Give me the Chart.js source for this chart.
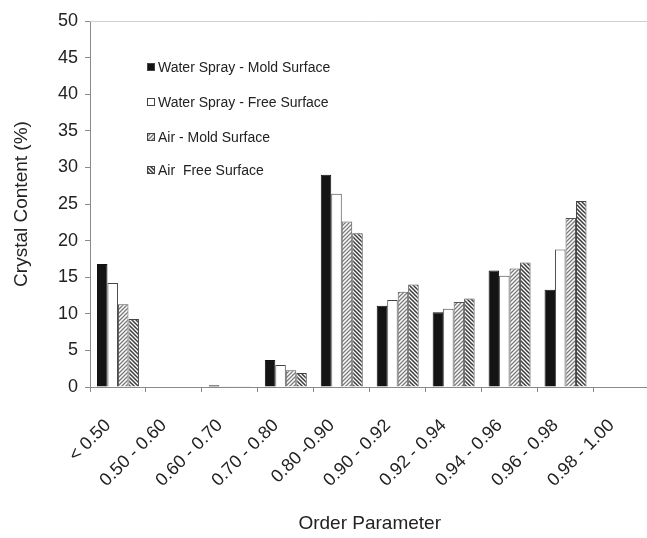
<!DOCTYPE html>
<html>
<head>
<meta charset="utf-8">
<script src="https://cdn.jsdelivr.net/npm/chart.js@4/dist/chart.umd.min.js"></script>
<style>
  html, body { margin: 0; padding: 0; background: #fff; overflow: hidden; }
  #wrap { width: 647px; height: 538px; overflow: hidden; }
</style>
</head>
<body>
<div id="wrap"><canvas id="c" width="660" height="538"></canvas></div>
<script>
// Order-parameter bins and crystal content (%) per surface / cooling condition
const categories = ['< 0.50', '0.50 - 0.60', '0.60 - 0.70', '0.70 - 0.80', '0.80 -0.90',
                    '0.90 - 0.92', '0.92 - 0.94', '0.94 - 0.96', '0.96 - 0.98', '0.98 - 1.00'];
const waterSprayMold = [16.8, 0, 0.25, 3.7, 29.0, 11.1, 10.2, 15.9, 13.3, 0];
const waterSprayFree = [14.2, 0, 0.1, 3.0, 26.4, 11.9, 10.7, 15.2, 18.8, 0];
const airMold        = [11.3, 0, 0.1, 2.3, 22.6, 13.0, 11.6, 16.2, 23.1, 0];
const airFree        = [9.3, 0, 0.1, 1.9, 21.0, 14.0, 12.1, 17.0, 25.4, 0];
const seriesNames = ['Water Spray - Mold Surface', 'Water Spray - Free Surface',
                     'Air - Mold Surface', 'Air  Free Surface'];
const yTicks = [0, 5, 10, 15, 20, 25, 30, 35, 40, 45, 50];

const FONT = 'Liberation Sans, Arial, sans-serif';

// diagonal hatch tile; dir = 1 for '/', -1 for '\'
function hatch(dir, color, width, size) {
  const cv = document.createElement('canvas');
  cv.width = size; cv.height = size;
  const g = cv.getContext('2d');
  g.fillStyle = '#fff';
  g.fillRect(0, 0, size, size);
  g.strokeStyle = color;
  g.lineWidth = width;
  g.beginPath();
  for (let k = -1; k <= 1; k++) {
    const o = k * size;
    if (dir > 0) { g.moveTo(o - 1, size + 1); g.lineTo(o + size + 1, -1); }
    else { g.moveTo(o - 1, -1); g.lineTo(o + size + 1, size + 1); }
  }
  g.stroke();
  return g.createPattern(cv, 'repeat');
}
const ctx0 = document.getElementById('c').getContext('2d');
const patMold = hatch(1, '#7a7a7a', 1.3, 4);
const patFree = hatch(-1, '#3c3c3c', 1.5, 4);

const fills = ['#141414', '#ffffff', patMold, patFree];
const borders = ['#111', '#444', '#555', '#444'];
const values = [waterSprayMold, waterSprayFree, airMold, airFree];

// legend drawn inside the plot, upper left
const legendBox = {
  id: 'legendBox',
  afterDraw(chart) {
    const c = chart.ctx;
    const rows = [67, 102, 137, 170];
    c.save();
    chart.data.datasets.forEach((ds, i) => {
      const y = rows[i];
      c.fillStyle = ds.backgroundColor;
      c.fillRect(147, y - 4, 8, 8);
      c.strokeStyle = '#444';
      c.lineWidth = 1;
      c.strokeRect(147.5, y - 3.5, 7, 7);
      c.fillStyle = '#222';
      c.font = '14px ' + FONT;
      c.textBaseline = 'middle';
      c.textAlign = 'left';
      c.fillText(ds.label, 158, y + 1);
    });
    c.restore();
  }
};

// faint frame line along the top of the plot
const topFrame = {
  id: 'topFrame',
  beforeDatasetsDraw(chart) {
    const a = chart.chartArea, c = chart.ctx;
    c.save();
    c.strokeStyle = '#d0d0d0';
    c.lineWidth = 1;
    c.beginPath();
    c.moveTo(a.left, Math.round(a.top) + 0.5);
    c.lineTo(a.right, Math.round(a.top) + 0.5);
    c.stroke();
    c.restore();
  }
};

new Chart(ctx0, {
  type: 'bar',
  data: {
    labels: categories,
    datasets: values.map((v, i) => ({
      label: seriesNames[i],
      data: v,
      backgroundColor: fills[i],
      borderColor: borders[i],
      borderWidth: 1,
      borderSkipped: 'bottom',
      categoryPercentage: 0.75,
      barPercentage: 1.0
    }))
  },
  options: {
    responsive: false,
    animation: false,
    layout: { padding: { top: 21, right: 5, left: 0, bottom: 0 } },
    plugins: {
      legend: { display: false },
      tooltip: { enabled: false }
    },
    scales: {
      x: {
        grid: { display: true, drawOnChartArea: false, drawTicks: true, tickLength: 5, color: '#8a8a8a', offset: true },
        border: { display: true, color: '#8a8a8a', width: 1 },
        ticks: {
          autoSkip: false, maxRotation: 45, minRotation: 45, padding: 23, labelOffset: -10,
          color: '#222', font: { family: FONT, size: 18 }
        },
        title: {
          display: true, text: 'Order Parameter', color: '#222',
          font: { family: FONT, size: 19 }, padding: { top: 0, bottom: 3 }
        },
        afterFit(scale) { scale.height = 151; }
      },
      y: {
        min: 0, max: 50,
        afterBuildTicks(scale) { scale.ticks = yTicks.map(v => ({ value: v })); },
        grid: { display: true, drawOnChartArea: false, drawTicks: true, tickLength: 5, color: '#8a8a8a' },
        border: { display: true, color: '#8a8a8a', width: 1 },
        ticks: { padding: 7, color: '#222', font: { family: FONT, size: 18 } },
        title: {
          display: true, text: 'Crystal Content (%)', color: '#222',
          font: { family: FONT, size: 19 }, padding: { top: 10, bottom: 0 }
        },
        afterFit(scale) { scale.width = 90; }
      }
    }
  },
  plugins: [topFrame, legendBox]
});
</script>
</body>
</html>
